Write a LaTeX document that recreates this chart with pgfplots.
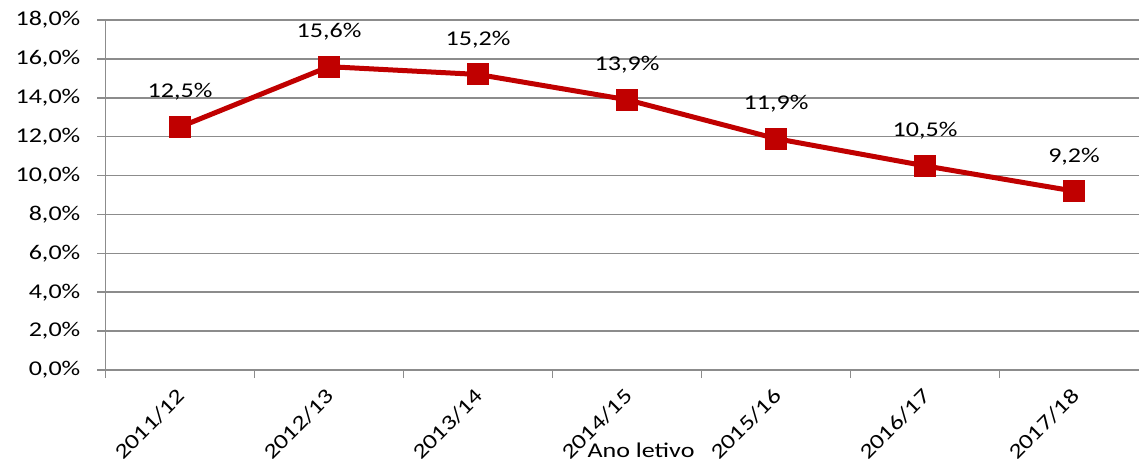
\documentclass[border=0pt]{standalone}
\usepackage{fontspec}
\setmainfont{Carlito}[FakeStretch=1.24]
\usepackage{pgfplots}
\pgfplotsset{compat=1.18}
\definecolor{linered}{HTML}{C00000}
\definecolor{gridgray}{HTML}{8C8C8C}
\begin{document}
\fontsize{21pt}{25pt}\selectfont
\begin{tikzpicture}
\useasboundingbox (-105.5pt,-88pt) rectangle (1033.5pt,370pt);
\begin{axis}[
  at={(0pt,0pt)}, anchor=south west,
  scale only axis,
  width=1033.5pt, height=350pt,
  xmin=-0.5, xmax=6.436,
  ymin=0, ymax=18,
  clip=false,
  axis lines=left,
  axis line style={-, draw=gridgray, line width=1.5pt},
  ytick={0,2,...,18},
  ymajorgrids,
  grid style={gridgray, line width=1.5pt},
  tick align=outside,
  major tick length=8pt,
  minor tick length=8pt,
  ytick style={gridgray, line width=1.5pt},
  xtick={0,1,2,3,4,5,6},
  xticklabels={2011/12,2012/13,2013/14,2014/15,2015/16,2016/17,2017/18},
  major x tick style={draw=none},
  minor xtick={-0.5,0.5,1.5,2.5,3.5,4.5,5.5},
  minor x tick style={gridgray, line width=1.5pt},
  /pgf/number format/assume math mode=true,
  yticklabel={\pgfmathprintnumber[fixed,precision=1,zerofill,use comma]{\tick}\%},
  yticklabel style={font=\fontsize{21pt}{25pt}\selectfont, inner sep=0pt, xshift=-17pt},
  xticklabel style={font=\fontsize{21pt}{25pt}\selectfont, xshift=-4pt, yshift=-9pt, rotate=45, anchor=north east, inner sep=0pt},
  nodes near coords={\pgfmathprintnumber[fixed,precision=1,zerofill,use comma]{\pgfplotspointmeta}\%},
  nodes near coords style={font=\fontsize{21pt}{25pt}\selectfont, text=black, anchor=base, inner sep=0pt, yshift=29pt},
]
\addplot[color=linered, line width=5pt, mark=square*, mark size=10.5pt, mark options={fill=linered, draw=linered, line width=0pt}]
  coordinates {(0,12.5) (1,15.6) (2,15.2) (3,13.9) (4,11.9) (5,10.5) (6,9.2)};
\node[anchor=base, font=\fontsize{21pt}{25pt}\selectfont] at (axis cs:3.094,0) [yshift=-87pt] {Ano letivo};
\end{axis}
\end{tikzpicture}
\end{document}
